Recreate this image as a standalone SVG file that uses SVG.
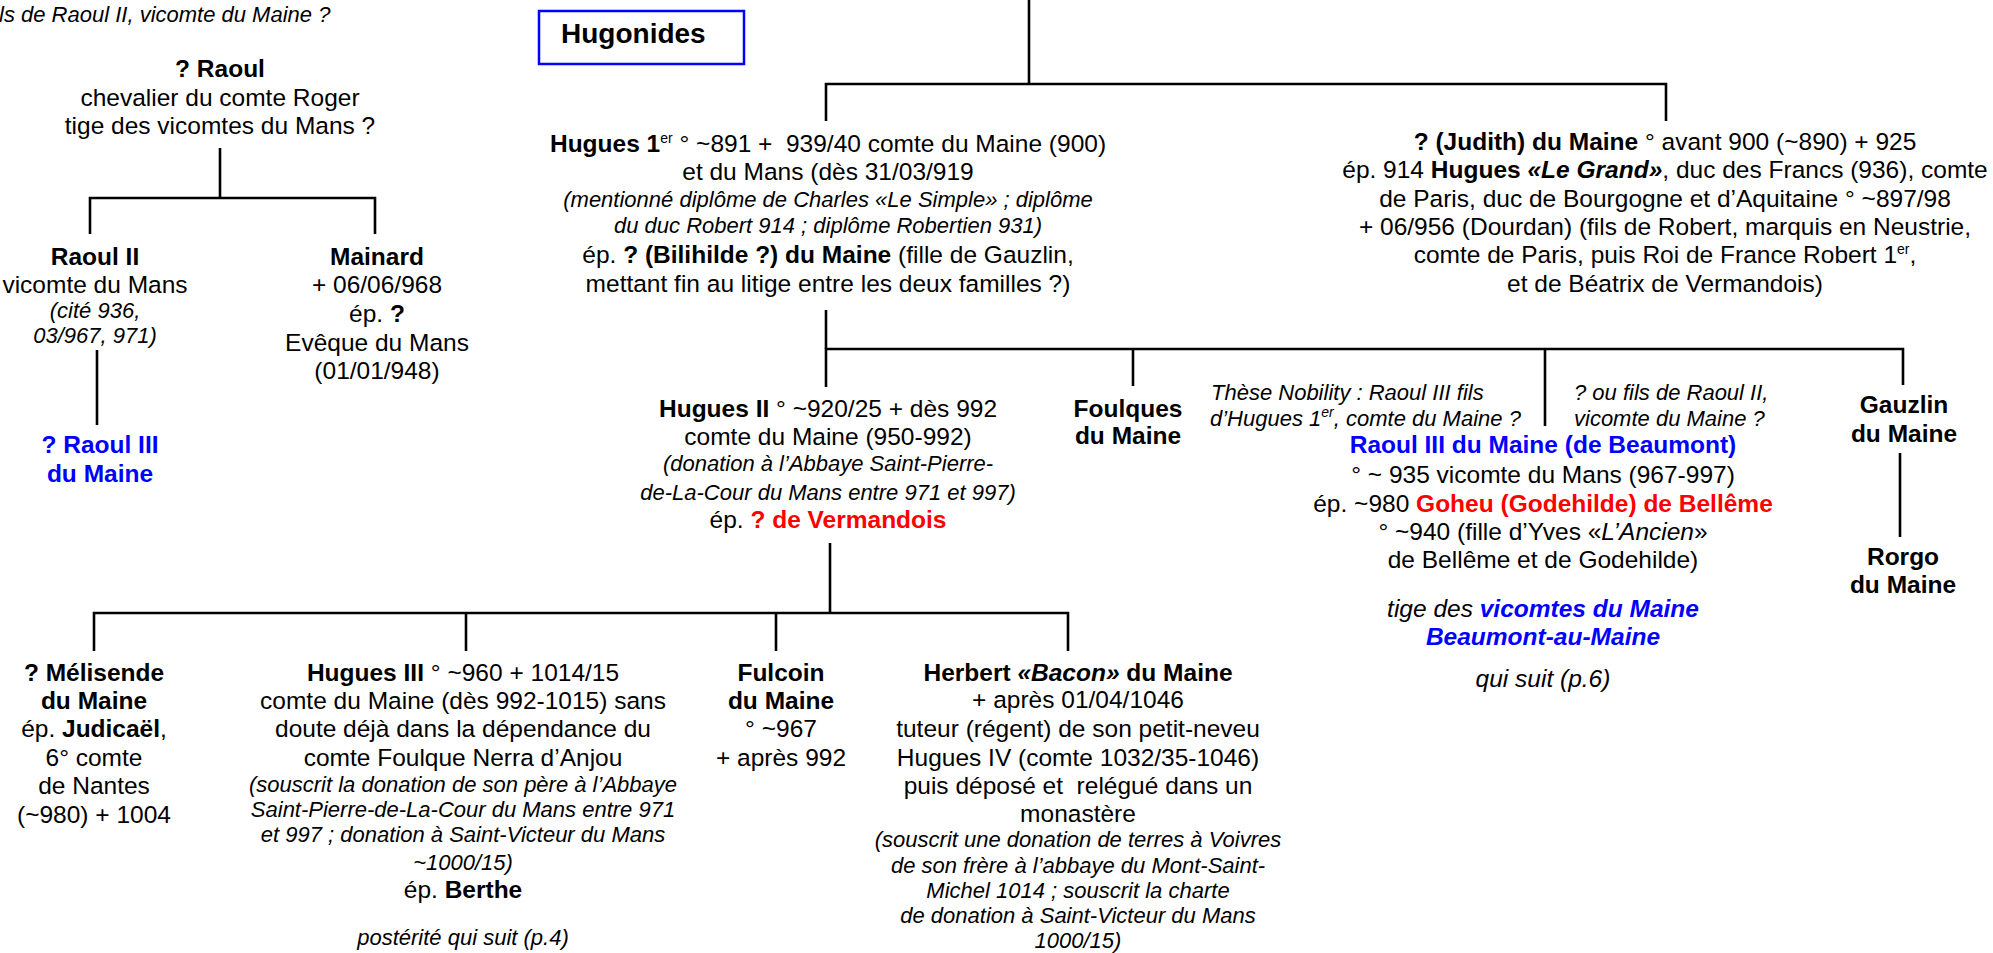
<svg xmlns="http://www.w3.org/2000/svg" width="1993" height="953" viewBox="0 0 1993 953">
<style>
text{font-family:"Liberation Sans",Arial,sans-serif;font-size:24.5px;fill:#000;text-anchor:middle;white-space:pre}
.l{text-anchor:start}
.b{font-weight:bold}
.i{font-style:italic;font-size:22px}
.bi{font-weight:bold;font-style:italic}
.red{fill:#ff0000}
.blue{fill:#0000ff}
.sup{font-size:14px}
.conn path{stroke:#000;stroke-width:2.6;fill:none}
</style>
<rect width="1993" height="953" fill="#fff"/>
<g class="conn" id="connectors">
<path d="M220,148 V198"/>
<path d="M90,234 V198 H375 V234"/>
<path d="M97,350 V425"/>
<path d="M1029,0 V84"/>
<path d="M826,121 V84 H1666 V121"/>
<path d="M826,310 V349"/>
<path d="M826,387 V349 H1903 V385"/>
<path d="M1133,349 V386"/>
<path d="M1545,349 V426"/>
<path d="M1900,453 V537"/>
<path d="M830,543 V613"/>
<path d="M94,651 V613 H1068 V651"/>
<path d="M466,613 V651"/>
<path d="M776,613 V651"/>
</g>
<g id="note-top">
<text class="i l" x="-1" y="22">ls de Raoul II, vicomte du Maine ?</text>
</g>
<g id="hugonides">
<rect x="539" y="11" width="205" height="53" fill="#fff" stroke="#0000ff" stroke-width="2.5"/>
<text class="b l" x="561" y="43" style="font-size:28px">Hugonides</text>
</g>
<g id="raoul">
<text class="b" x="220" y="77">? Raoul</text>
<text x="220" y="106">chevalier du comte Roger</text>
<text x="220" y="134">tige des vicomtes du Mans ?</text>
</g>
<g id="raoul-ii">
<text class="b" x="95" y="265">Raoul II</text>
<text x="95" y="293">vicomte du Mans</text>
<text class="i" x="95" y="318">(cité 936,</text>
<text class="i" x="95" y="343">03/967, 971)</text>
</g>
<g id="raoul-iii-left">
<text class="b blue" x="100" y="453">? Raoul III</text>
<text class="b blue" x="100" y="482">du Maine</text>
</g>
<g id="mainard">
<text class="b" x="377" y="265">Mainard</text>
<text x="377" y="293">+ 06/06/968</text>
<text x="377" y="322">ép. <tspan class="b">?</tspan></text>
<text x="377" y="351">Evêque du Mans</text>
<text x="377" y="379">(01/01/948)</text>
</g>
<g id="hugues-i">
<text x="828" y="152"><tspan class="b">Hugues 1</tspan><tspan class="sup" dy="-9">er</tspan><tspan dy="9"> ° ~891 +  939/40 comte du Maine (900)</tspan></text>
<text x="828" y="180">et du Mans (dès 31/03/919</text>
<text class="i" x="828" y="207">(mentionné diplôme de Charles «Le Simple» ; diplôme</text>
<text class="i" x="828" y="233">du duc Robert 914 ; diplôme Robertien 931)</text>
<text x="828" y="263">ép. <tspan class="b">? (Bilihilde ?) du Maine</tspan> (fille de Gauzlin,</text>
<text x="828" y="292">mettant fin au litige entre les deux familles ?)</text>
</g>
<g id="judith">
<text x="1665" y="150"><tspan class="b">? (Judith) du Maine</tspan> ° avant 900 (~890) + 925</text>
<text x="1665" y="178">ép. 914 <tspan class="b">Hugues </tspan><tspan class="bi">«Le Grand»</tspan>, duc des Francs (936), comte</text>
<text x="1665" y="207">de Paris, duc de Bourgogne et d’Aquitaine ° ~897/98</text>
<text x="1665" y="235">+ 06/956 (Dourdan) (fils de Robert, marquis en Neustrie,</text>
<text x="1665" y="263">comte de Paris, puis Roi de France Robert 1<tspan class="sup" dy="-9">er</tspan><tspan dy="9">,</tspan></text>
<text x="1665" y="292">et de Béatrix de Vermandois)</text>
</g>
<g id="hugues-ii">
<text x="828" y="417"><tspan class="b">Hugues II</tspan> ° ~920/25 + dès 992</text>
<text x="828" y="445">comte du Maine (950-992)</text>
<text class="i" x="828" y="471">(donation à l’Abbaye Saint-Pierre-</text>
<text class="i" x="828" y="500">de-La-Cour du Mans entre 971 et 997)</text>
<text x="828" y="528">ép. <tspan class="b red">? de Vermandois</tspan></text>
</g>
<g id="foulques">
<text class="b" x="1128" y="417">Foulques</text>
<text class="b" x="1128" y="444">du Maine</text>
</g>
<g id="note-these">
<text class="i l" x="1211" y="400">Thèse Nobility : Raoul III fils</text>
<text class="i l" x="1210" y="426">d’Hugues 1<tspan class="sup" dy="-9">er</tspan><tspan dy="9">, comte du Maine ?</tspan></text>
</g>
<g id="note-raoul-ii">
<text class="i l" x="1574" y="400">? ou fils de Raoul II,</text>
<text class="i l" x="1574" y="426">vicomte du Maine ?</text>
</g>
<g id="raoul-iii">
<text class="b blue" x="1543" y="453">Raoul III du Maine (de Beaumont)</text>
<text x="1543" y="483">° ~ 935 vicomte du Mans (967-997)</text>
<text x="1543" y="512">ép. ~980 <tspan class="b red">Goheu (Godehilde) de Bellême</tspan></text>
<text x="1543" y="540">° ~940 (fille d’Yves «<tspan style="font-style:italic">L’Ancien</tspan>»</text>
<text x="1543" y="568">de Bellême et de Godehilde)</text>
<text x="1543" y="617" style="font-style:italic">tige des <tspan class="bi blue">vicomtes du Maine</tspan></text>
<text class="bi blue" x="1543" y="645">Beaumont-au-Maine</text>
<text x="1543" y="687" style="font-style:italic">qui suit (p.6)</text>
</g>
<g id="gauzlin">
<text class="b" x="1904" y="413">Gauzlin</text>
<text class="b" x="1904" y="442">du Maine</text>
</g>
<g id="rorgo">
<text class="b" x="1903" y="565">Rorgo</text>
<text class="b" x="1903" y="593">du Maine</text>
</g>
<g id="melisende">
<text class="b" x="94" y="681">? Mélisende</text>
<text class="b" x="94" y="709">du Maine</text>
<text x="94" y="737">ép. <tspan class="b">Judicaël</tspan>,</text>
<text x="94" y="766">6° comte</text>
<text x="94" y="794">de Nantes</text>
<text x="94" y="823">(~980) + 1004</text>
</g>
<g id="hugues-iii">
<text x="463" y="681"><tspan class="b">Hugues III</tspan> ° ~960 + 1014/15</text>
<text x="463" y="709">comte du Maine (dès 992-1015) sans</text>
<text x="463" y="737">doute déjà dans la dépendance du</text>
<text x="463" y="766">comte Foulque Nerra d’Anjou</text>
<text class="i" x="463" y="792">(souscrit la donation de son père à l’Abbaye</text>
<text class="i" x="463" y="817">Saint-Pierre-de-La-Cour du Mans entre 971</text>
<text class="i" x="463" y="842">et 997 ; donation à Saint-Victeur du Mans</text>
<text class="i" x="463" y="870">~1000/15)</text>
<text x="463" y="898">ép. <tspan class="b">Berthe</tspan></text>
<text class="i" x="463" y="945">postérité qui suit (p.4)</text>
</g>
<g id="fulcoin">
<text class="b" x="781" y="681">Fulcoin</text>
<text class="b" x="781" y="709">du Maine</text>
<text x="781" y="737">° ~967</text>
<text x="781" y="766">+ après 992</text>
</g>
<g id="herbert">
<text class="b" x="1078" y="681">Herbert <tspan style="font-style:italic">«Bacon»</tspan> du Maine</text>
<text x="1078" y="708">+ après 01/04/1046</text>
<text x="1078" y="737">tuteur (régent) de son petit-neveu</text>
<text x="1078" y="766">Hugues IV (comte 1032/35-1046)</text>
<text x="1078" y="794">puis déposé et  relégué dans un</text>
<text x="1078" y="822">monastère</text>
<text class="i" x="1078" y="847">(souscrit une donation de terres à Voivres</text>
<text class="i" x="1078" y="873">de son frère à l’abbaye du Mont-Saint-</text>
<text class="i" x="1078" y="898">Michel 1014 ; souscrit la charte</text>
<text class="i" x="1078" y="923">de donation à Saint-Victeur du Mans</text>
<text class="i" x="1078" y="948">1000/15)</text>
</g>
</svg>
